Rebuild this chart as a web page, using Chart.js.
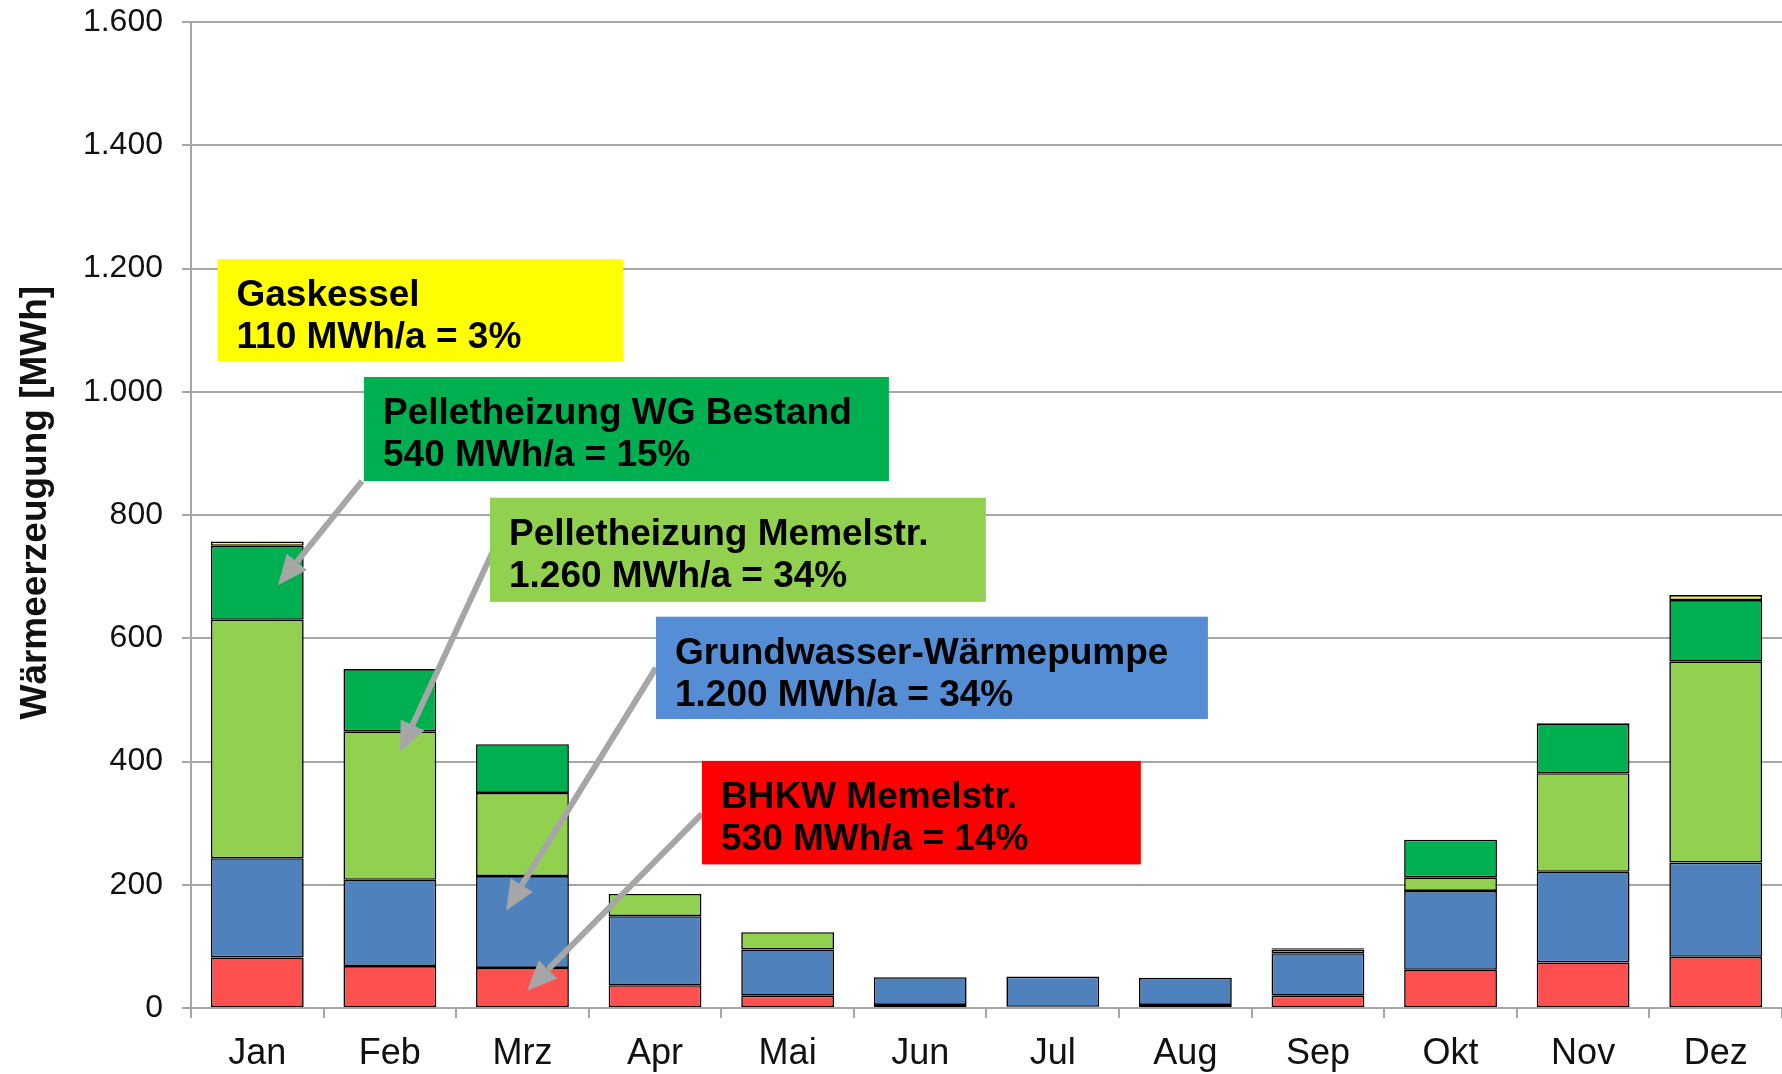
<!DOCTYPE html>
<html lang="de">
<head>
<meta charset="utf-8">
<title>Wärmeerzeugung</title>
<script src="https://cdn.jsdelivr.net/npm/chart.js@4.4.1/dist/chart.umd.min.js"></script>
<style>
  html, body { margin: 0; padding: 0; background: #fff; }
  #wrap { width: 1782px; height: 1074px; }
</style>
</head>
<body>
<div id="wrap"><canvas id="chart" width="1782" height="1074"></canvas></div>
<script>
// Monthly heat generation per source [MWh]
const months = ['Jan', 'Feb', 'Mrz', 'Apr', 'Mai', 'Jun', 'Jul', 'Aug', 'Sep', 'Okt', 'Nov', 'Dez'];
const bhkw = [82, 68, 65, 37, 20, 5, 2, 5, 20, 62, 74, 83];
const waermepumpe = [161, 140, 149, 112, 75, 45, 49, 44, 69, 128, 147, 153];
const pelletMemel = [387, 241, 135, 36, 28, null, null, null, 6, 22, 160, 326];
const pelletWG = [120, 101, 79, null, null, null, null, null, 2, 61, 81, 100];
const gaskessel = [7, null, null, null, null, null, null, null, null, null, null, 8];
const yTicks = [0, 200, 400, 600, 800, 1000, 1200, 1400, 1600];
const yTitle = 'Wärmeerzeugung [MWh]';

const FONT = "'Liberation Sans', Arial, sans-serif";

// callout boxes and arrows, placed in data units (x = category index, y = MWh)
const callouts = [
  { x1: -0.30, x2: 2.76, yTop: 1215, yBot: 1050, color: '#ffff00', lines: ['Gaskessel', '110 MWh/a = 3%'] },
  { x1: 0.805, x2: 4.764, yTop: 1024, yBot: 855, color: '#00b050', lines: ['Pelletheizung WG Bestand', '540 MWh/a = 15%'] },
  { x1: 1.755, x2: 5.495, yTop: 828, yBot: 659, color: '#92d050', lines: ['Pelletheizung Memelstr.', '1.260 MWh/a = 34%'] },
  { x1: 3.007, x2: 7.170, yTop: 635, yBot: 469, color: '#558ed5', lines: ['Grundwasser-Wärmepumpe', '1.200 MWh/a = 34%'] },
  { x1: 3.354, x2: 6.664, yTop: 401, yBot: 233, color: '#ff0000', lines: ['BHKW Memelstr.', '530 MWh/a = 14%'] },
];
const arrows = [
  { x1: 0.790, y1: 855, x2: 0.156, y2: 686 },
  { x1: 1.785, y1: 745, x2: 1.076, y2: 415 },
  { x1: 3.007, y1: 552, x2: 1.876, y2: 158 },
  { x1: 3.354, y1: 315, x2: 2.034, y2: 28 },
];

const calloutPlugin = {
  id: 'callouts',
  afterDatasetsDraw(chart) {
    const ctx = chart.ctx;
    const xs = chart.scales.x;
    const ys = chart.scales.y;
    ctx.save();

    // arrows
    ctx.strokeStyle = '#a6a6a6';
    ctx.fillStyle = '#a6a6a6';
    ctx.lineWidth = 6;
    arrows.forEach(a => {
      const x1 = xs.getPixelForValue(a.x1), y1 = ys.getPixelForValue(a.y1);
      const x2 = xs.getPixelForValue(a.x2), y2 = ys.getPixelForValue(a.y2);
      const ang = Math.atan2(y2 - y1, x2 - x1);
      const headLen = 30, headW = 13;
      const bx = x2 - headLen * Math.cos(ang), by = y2 - headLen * Math.sin(ang);
      ctx.beginPath();
      ctx.moveTo(x1, y1);
      ctx.lineTo(bx, by);
      ctx.stroke();
      ctx.beginPath();
      ctx.moveTo(x2, y2);
      ctx.lineTo(bx + headW * Math.sin(ang), by - headW * Math.cos(ang));
      ctx.lineTo(bx - headW * Math.sin(ang), by + headW * Math.cos(ang));
      ctx.closePath();
      ctx.fill();
    });

    // boxes
    ctx.font = 'bold 37px ' + FONT;
    ctx.textBaseline = 'alphabetic';
    ctx.textAlign = 'left';
    callouts.forEach(c => {
      const left = xs.getPixelForValue(c.x1), right = xs.getPixelForValue(c.x2);
      const top = ys.getPixelForValue(c.yTop), bot = ys.getPixelForValue(c.yBot);
      ctx.fillStyle = c.color;
      ctx.fillRect(left, top, right - left, bot - top);
      ctx.fillStyle = '#000';
      c.lines.forEach((t, i) => {
        ctx.fillText(t, left + 19, top + 47 + i * 42);
      });
    });

    // y axis title (sits a bit above the plot centre in the original)
    ctx.translate(36, ys.getPixelForValue(820));
    ctx.rotate(-Math.PI / 2);
    ctx.font = 'bold 37px ' + FONT;
    ctx.textAlign = 'center';
    ctx.textBaseline = 'middle';
    ctx.fillStyle = '#111';
    ctx.fillText(yTitle, 0, 0);
    ctx.restore();
  }
};

const barStyle = { borderColor: '#000', borderWidth: 1.6, borderSkipped: false, barPercentage: 0.7, categoryPercentage: 1.0 };

new Chart(document.getElementById('chart'), {
  type: 'bar',
  data: {
    labels: months,
    datasets: [
      { label: 'BHKW Memelstr.', data: bhkw, backgroundColor: '#ff5050', ...barStyle },
      { label: 'Grundwasser-Wärmepumpe', data: waermepumpe, backgroundColor: '#4f81bd', ...barStyle },
      { label: 'Pelletheizung Memelstr.', data: pelletMemel, backgroundColor: '#92d050', ...barStyle },
      { label: 'Pelletheizung WG Bestand', data: pelletWG, backgroundColor: '#00b050', ...barStyle },
      { label: 'Gaskessel', data: gaskessel, backgroundColor: '#ffff00', ...barStyle },
    ],
  },
  options: {
    responsive: false,
    animation: false,
    layout: { padding: { top: 22, right: 0, bottom: 0, left: 0 } },
    plugins: {
      legend: { display: false },
      tooltip: { enabled: false },
    },
    scales: {
      x: {
        stacked: true,
        offset: true,
        grid: {
          offset: true,
          drawOnChartArea: false,
          drawTicks: true,
          tickLength: 10,
          color: '#a6a6a6',
          lineWidth: 2,
        },
        border: { display: true, color: '#a6a6a6', width: 2 },
        ticks: {
          color: '#111',
          font: { family: FONT, size: 36 },
          padding: 14,
          maxRotation: 0,
        },
        afterFit: (scale) => { scale.height = 66; },
      },
      y: {
        stacked: true,
        min: 0,
        max: 1600,
        afterBuildTicks: (scale) => { scale.ticks = yTicks.map(v => ({ value: v })); },
        grid: {
          color: '#a6a6a6',
          lineWidth: 2,
          drawTicks: true,
          tickLength: 9,
        },
        border: { display: true, color: '#a6a6a6', width: 2 },
        ticks: {
          color: '#111',
          font: { family: FONT, size: 32 },
          padding: 19,
          callback: (v) => v.toLocaleString('de-DE'),
        },
        title: { display: false },
        afterFit: (scale) => {
          scale.width = 191;
          scale.paddingTop = 0;
          scale.paddingBottom = 0;
        },
      },
    },
  },
  plugins: [calloutPlugin],
});
</script>
</body>
</html>
